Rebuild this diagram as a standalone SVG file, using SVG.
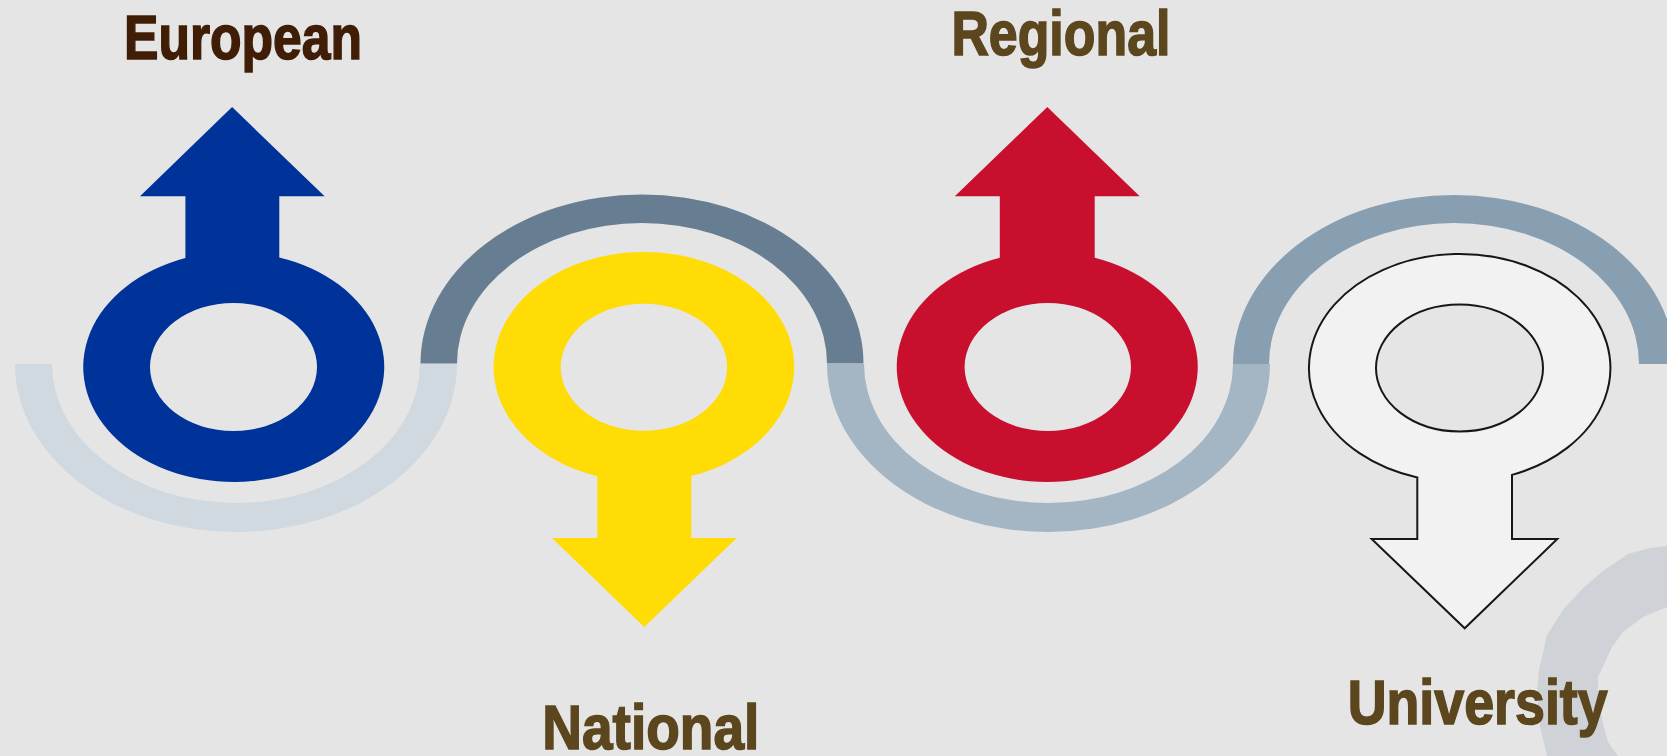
<svg xmlns="http://www.w3.org/2000/svg" width="1667" height="756" viewBox="0 0 1667 756">
<style>
.lbl{font-family:"Liberation Sans Narrow","Liberation Sans",Arial,sans-serif;font-weight:700;font-size:63px;fill:#5c461e;stroke:#5c461e;stroke-width:1.600px}
.eu{fill:#401d06;stroke:#401d06}
.sym{fill-rule:evenodd}
</style>
<rect width="1667" height="756" fill="#e5e5e5"/>
<path id="corner-ring" fill="#cfd2d7" d="M1667 546L1650 548L1628 554L1603 571L1582 589L1563 610L1547 635L1542 657L1539 670L1537 693L1540 727L1547 756L1618 756L1608 742L1603 723L1598 700L1598 677L1612 647L1623 632L1643 617L1667 607Z"/>
<g id="connectors">
<path fill="#cfd9df" d="M15 364A221 168 0 0 0 457 364L420 364A184 139 0 0 1 52 364Z"/>
<path fill="#a4b6c4" d="M827 364A221.500 168 0 0 0 1270 364L1233 364A184.500 139 0 0 1 864 364Z"/>
<path fill="#677d92" d="M420.500 363.500A221.500 169 0 0 1 863.500 363.500L827 363.500A185 140.500 0 0 0 457 363.500Z"/>
<path fill="#889fb2" d="M1233 364A221 169 0 0 1 1675 364L1639 364A185 141 0 0 0 1269 364Z"/>
</g>
<g id="european">
<path class="sym" fill="#003399" d="M185.400 258.100A150.500 115 0 1 0 279.300 257.400L279.300 196.300L324.600 196.300L232.100 107L140 196.300L185.400 196.300ZM150 367A83.500 64 0 1 1 317 367A83.500 64 0 1 1 150 367Z"/>
<text class="lbl eu" x="124" y="58.500" textLength="238" lengthAdjust="spacingAndGlyphs">European</text>
</g>
<g id="national">
<path class="sym" fill="#ffdc05" d="M597.300 476.300A150.300 115 0 1 1 691.300 476.100L691.300 538L736.700 538L644.300 627L552 538L597.300 538ZM560.700 367.300A83.200 63.500 0 1 1 727.100 367.300A83.200 63.500 0 1 1 560.700 367.300Z"/>
<text class="lbl" x="542.300" y="749.300" textLength="217" lengthAdjust="spacingAndGlyphs">National</text>
</g>
<g id="regional">
<path class="sym" fill="#c8102e" d="M999.800 257.800A150.500 115 0 1 0 1094.700 257.800L1094.700 196.300L1139.700 196.300L1047.300 107L954.800 196.300L999.800 196.300ZM964.600 367A83.200 64 0 1 1 1131 367A83.200 64 0 1 1 964.600 367Z"/>
<text class="lbl" x="951.400" y="55" textLength="219" lengthAdjust="spacingAndGlyphs">Regional</text>
</g>
<g id="university">
<path class="sym" fill="#f2f2f2" stroke="#14181d" stroke-width="2" d="M1417.300 477.400A150.700 114 0 1 1 1512 474.900L1512 539L1557.300 539L1464.700 628.300L1371.700 539L1417.300 539ZM1376 368A83.500 63.500 0 1 1 1543 368A83.500 63.500 0 1 1 1376 368Z"/>
<text class="lbl" x="1347.700" y="724.300" textLength="260" lengthAdjust="spacingAndGlyphs">University</text>
</g>
</svg>
